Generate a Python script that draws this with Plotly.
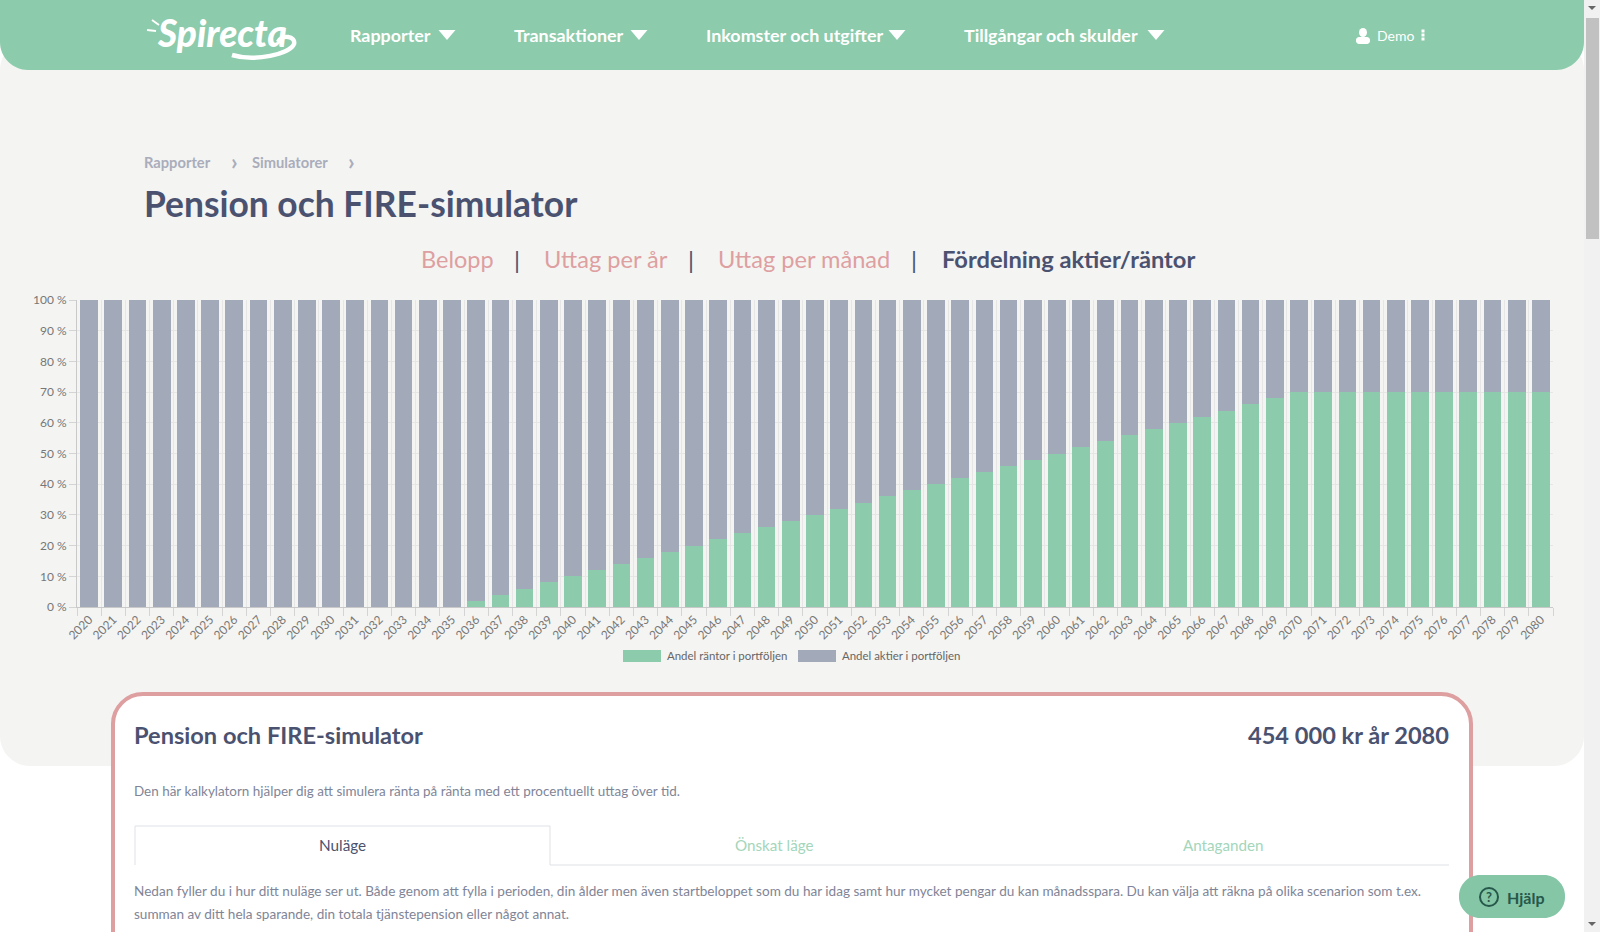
import plotly.graph_objects as go

W = 1600
H = 932

years = ["2020", "2021", "2022", "2023", "2024", "2025", "2026", "2027", "2028", "2029",
         "2030", "2031", "2032", "2033", "2034", "2035", "2036", "2037", "2038", "2039",
         "2040", "2041", "2042", "2043", "2044", "2045", "2046", "2047", "2048", "2049",
         "2050", "2051", "2052", "2053", "2054", "2055", "2056", "2057", "2058", "2059",
         "2060", "2061", "2062", "2063", "2064", "2065", "2066", "2067", "2068", "2069",
         "2070", "2071", "2072", "2073", "2074", "2075", "2076", "2077", "2078", "2079",
         "2080"]
rantor = [0, 0, 0, 0, 0, 0, 0, 0, 0, 0,
          0, 0, 0, 0, 0, 0, 2, 4, 6, 8,
          10, 12, 14, 16, 18, 20, 22, 24, 26, 28,
          30, 32, 34, 36, 38, 40, 42, 44, 46, 48,
          50, 52, 54, 56, 58, 60, 62, 64, 66, 68,
          70, 70, 70, 70, 70, 70, 70, 70, 70, 70,
          70]
aktier = [100, 100, 100, 100, 100, 100, 100, 100, 100, 100,
          100, 100, 100, 100, 100, 100, 98, 96, 94, 92,
          90, 88, 86, 84, 82, 80, 78, 76, 74, 72,
          70, 68, 66, 64, 62, 60, 58, 56, 54, 52,
          50, 48, 46, 44, 42, 40, 38, 36, 34, 32,
          30, 30, 30, 30, 30, 30, 30, 30, 30, 30,
          30]

GREEN = "#8ccbab"
GREY = "#a2a9b8"
NAVY = "#4a5270"
PINK = "#de9fa1"
FONT = "Lato"


def px(x):
    return x / W


def py(y):
    return 1 - y / H


def path(*cmds):
    # pixel coords -> paper coords, cmds are (letter, x, y, ...)
    out = []
    for c in cmds:
        if len(c) == 1:
            out.append(c[0])
            continue
        nums = []
        for i in range(1, len(c), 2):
            nums.append(f"{px(c[i]):.5f},{py(c[i + 1]):.5f}")
        out.append(c[0] + " ".join(nums))
    return " ".join(out)


def rounded(x0, y0, x1, y1, r):
    k = r * 0.45
    return path(("M", x0 + r, y0), ("L", x1 - r, y0),
                ("C", x1 - k, y0, x1, y0 + k, x1, y0 + r), ("L", x1, y1 - r),
                ("C", x1, y1 - k, x1 - k, y1, x1 - r, y1), ("L", x0 + r, y1),
                ("C", x0 + k, y1, x0, y1 - k, x0, y1 - r), ("L", x0, y0 + r),
                ("C", x0, y0 + k, x0 + k, y0, x0 + r, y0), ("Z",))


def shape(d, fill="rgba(0,0,0,0)", line=None, width=0):
    return dict(type="path", xref="paper", yref="paper", path=d, fillcolor=fill,
                line=dict(color=line or "rgba(0,0,0,0)", width=width), layer="below")


def box(x0, y0, x1, y1, fill):
    return dict(type="rect", xref="paper", yref="paper", x0=px(x0), x1=px(x1), y0=py(y0), y1=py(y1),
                fillcolor=fill, line=dict(width=0), layer="below")


def tri(x, y, w=16, h=9, color="white"):
    return shape(path(("M", x - w / 2, y - h / 2), ("L", x + w / 2, y - h / 2), ("L", x, y + h / 2), ("Z",)), fill=color)


def label(text, x, y, size, color, anchor="left", bold=False, family=FONT, weight=None):
    font = dict(size=size, color=color, family=family)
    if weight:
        font["weight"] = weight
    return dict(text=f"<b>{text}</b>" if bold else text, x=px(x), y=py(y), xref="paper", yref="paper",
                xanchor=anchor, yanchor="middle", showarrow=False, font=font)


fig = go.Figure()
fig.add_bar(x=years, y=rantor, name="Andel räntor i portföljen", marker_color=GREEN, marker_line_width=0)
fig.add_bar(x=years, y=aktier, name="Andel aktier i portföljen", marker_color=GREY, marker_line_width=0)

shapes = [
    # page panels
    shape(rounded(0, 40, 1584, 766, 30), fill="#f4f4f2"),
    shape(rounded(0, -40, 1584, 70, 28), fill=GREEN),
    # scrollbar
    box(1584, 0, 1600, 932, "#f1f1f1"),
    box(1586, 18, 1599, 239, "#c1c1c1"),
    tri(1592, 8, 8, 4, "#666666"),
    tri(1592, 924, 8, 4, "#666666"),
    # nav arrows
    tri(447, 35, 17, 10), tri(639, 35, 17, 10), tri(897, 35, 17, 10), tri(1156, 35, 17, 10),
    # user icon
    dict(type="circle", xref="paper", yref="paper", x0=px(1359), x1=px(1367), y0=py(37), y1=py(28),
         fillcolor="white", line=dict(width=0), layer="below"),
    shape(rounded(1356, 37, 1370, 44, 3), fill="white"),
    # logo sparks and swoosh
    shape(path(("M", 147, 30), ("L", 156, 31)), line="white", width=2),
    shape(path(("M", 152, 20), ("L", 159, 25)), line="white", width=2),
    shape(path(("M", 232, 55), ("C", 255, 62, 290, 54, 294, 44), ("C", 296, 36, 282, 34, 278, 42)),
          line="white", width=4.5),
    # legend swatches
    box(623, 650, 661, 662, GREEN),
    box(798, 650, 836, 662, GREY),
    # card
    shape(rounded(113, 694, 1471, 980, 30), fill="white", line=PINK, width=4),
    # tabs in card
    shape(path(("M", 135, 865), ("L", 135, 826), ("L", 550, 826), ("L", 550, 865)), line="#dfe1e6", width=1),
    shape(path(("M", 550, 865), ("L", 1449, 865)), line="#dfe1e6", width=1),
    # help button
    shape(rounded(1459, 875, 1565, 918, 21), fill="#84c6a6"),
    dict(type="circle", xref="paper", yref="paper", x0=px(1480), x1=px(1498), y0=py(906), y1=py(888),
         fillcolor="rgba(0,0,0,0)", line=dict(color="#27574a", width=2), layer="below"),
]
for y in (31, 35, 39):
    shapes.append(box(1421.5, y - 1.5, 1424.5, y + 1.5, "white"))

annotations = [
    label("<i>Spirecta</i>", 155, 33, 37, "white", weight=900),
    label("Rapporter", 348, 35, 17.9, "white", bold=True),
    label("Transaktioner", 512, 35, 17.9, "white", bold=True),
    label("Inkomster och utgifter", 704, 35, 17.9, "white", bold=True),
    label("Tillgångar och skulder", 962, 35, 17.9, "white", bold=True),
    label("Demo", 1375, 35, 14, "white"),
    label("Rapporter", 142, 162, 14.7, "#a9adbb", bold=True),
    label("›", 229, 161, 23, "#a9adbb", bold=True),
    label("Simulatorer", 250, 162, 14.7, "#a9adbb", bold=True),
    label("›", 346, 161, 23, "#a9adbb", bold=True),
    label("Pension och FIRE-simulator", 142, 204, 35.4, NAVY, bold=True),
    label("Belopp", 419, 259, 23.5, PINK),
    label("|", 517, 259, 24, NAVY, anchor="center"),
    label("Uttag per år", 542, 259, 23.6, PINK),
    label("|", 691, 259, 24, NAVY, anchor="center"),
    label("Uttag per månad", 716, 259, 23.6, PINK),
    label("|", 914, 259, 24, NAVY, anchor="center"),
    label("Fördelning aktier/räntor", 940, 259, 23.7, NAVY, bold=True),
    label("Andel räntor i portföljen", 665, 655, 11.45, "#666666"),
    label("Andel aktier i portföljen", 840, 655, 11.45, "#666666"),
    label("Pension och FIRE-simulator", 132, 735, 23.6, NAVY, bold=True),
    label("454 000 kr år 2080", 1451, 735, 23.6, NAVY, anchor="right", bold=True),
    label("Den här kalkylatorn hjälper dig att simulera ränta på ränta med ett procentuellt uttag över tid.",
          132, 791, 13.45, "#7f8597"),
    label("Nuläge", 342, 845, 15.3, NAVY, anchor="center"),
    label("Önskat läge", 774, 845, 15.2, "#a3d6bb", anchor="center"),
    label("Antaganden", 1223, 845, 15.2, "#a3d6bb", anchor="center"),
    label("Nedan fyller du i hur ditt nuläge ser ut. Både genom att fylla i perioden, din ålder men även startbeloppet "
          "som du har idag samt hur mycket pengar du kan månadsspara. Du kan välja att räkna på olika scenarion som t.ex.",
          132, 891, 13.57, "#7f8597"),
    label("summan av ditt hela sparande, din totala tjänstepension eller något annat.", 132, 914, 13.57, "#7f8597"),
    label("?", 1489, 897, 13, "#27574a", anchor="center", bold=True),
    label("Hjälp", 1505, 897, 16, "#27574a", bold=True),
]

fig.update_layout(
    width=W,
    height=H,
    margin=dict(l=0, r=0, t=0, b=0),
    paper_bgcolor="white",
    plot_bgcolor="#f4f4f2",
    barmode="stack",
    bargap=0.27,
    showlegend=False,
    font=dict(family=FONT, color="#666666", size=12),
    shapes=shapes,
    annotations=annotations,
)
fig.update_xaxes(
    domain=[px(77), px(1553)],
    automargin=False,
    type="category",
    tickmode="array",
    tickvals=years,
    ticktext=years,
    tickson="boundaries",
    ticks="outside",
    ticklen=8,
    tickcolor="#d4d4d4",
    tickangle=-45,
    tickfont=dict(size=12, color="#777777"),
    showgrid=True,
    gridcolor="#e6e6e6",
    showline=True,
    linecolor="#c9c9c9",
)
fig.update_yaxes(
    domain=[py(607), py(300)],
    automargin=False,
    range=[0, 100],
    tickmode="array",
    tickvals=[0, 10, 20, 30, 40, 50, 60, 70, 80, 90, 100],
    ticktext=["0 %", "10 %", "20 %", "30 %", "40 %", "50 %", "60 %", "70 %", "80 %", "90 %", "100 %"],
    ticks="outside",
    ticklen=7,
    tickcolor="#d4d4d4",
    tickfont=dict(size=12, color="#777777"),
    showgrid=True,
    gridcolor="#e6e6e6",
    showline=True,
    linecolor="#c9c9c9",
    zeroline=False,
)

fig.write_html("out.html", config=dict(displayModeBar=False),
               post_script="document.body.style.margin='0';document.body.style.overflow='hidden';")
